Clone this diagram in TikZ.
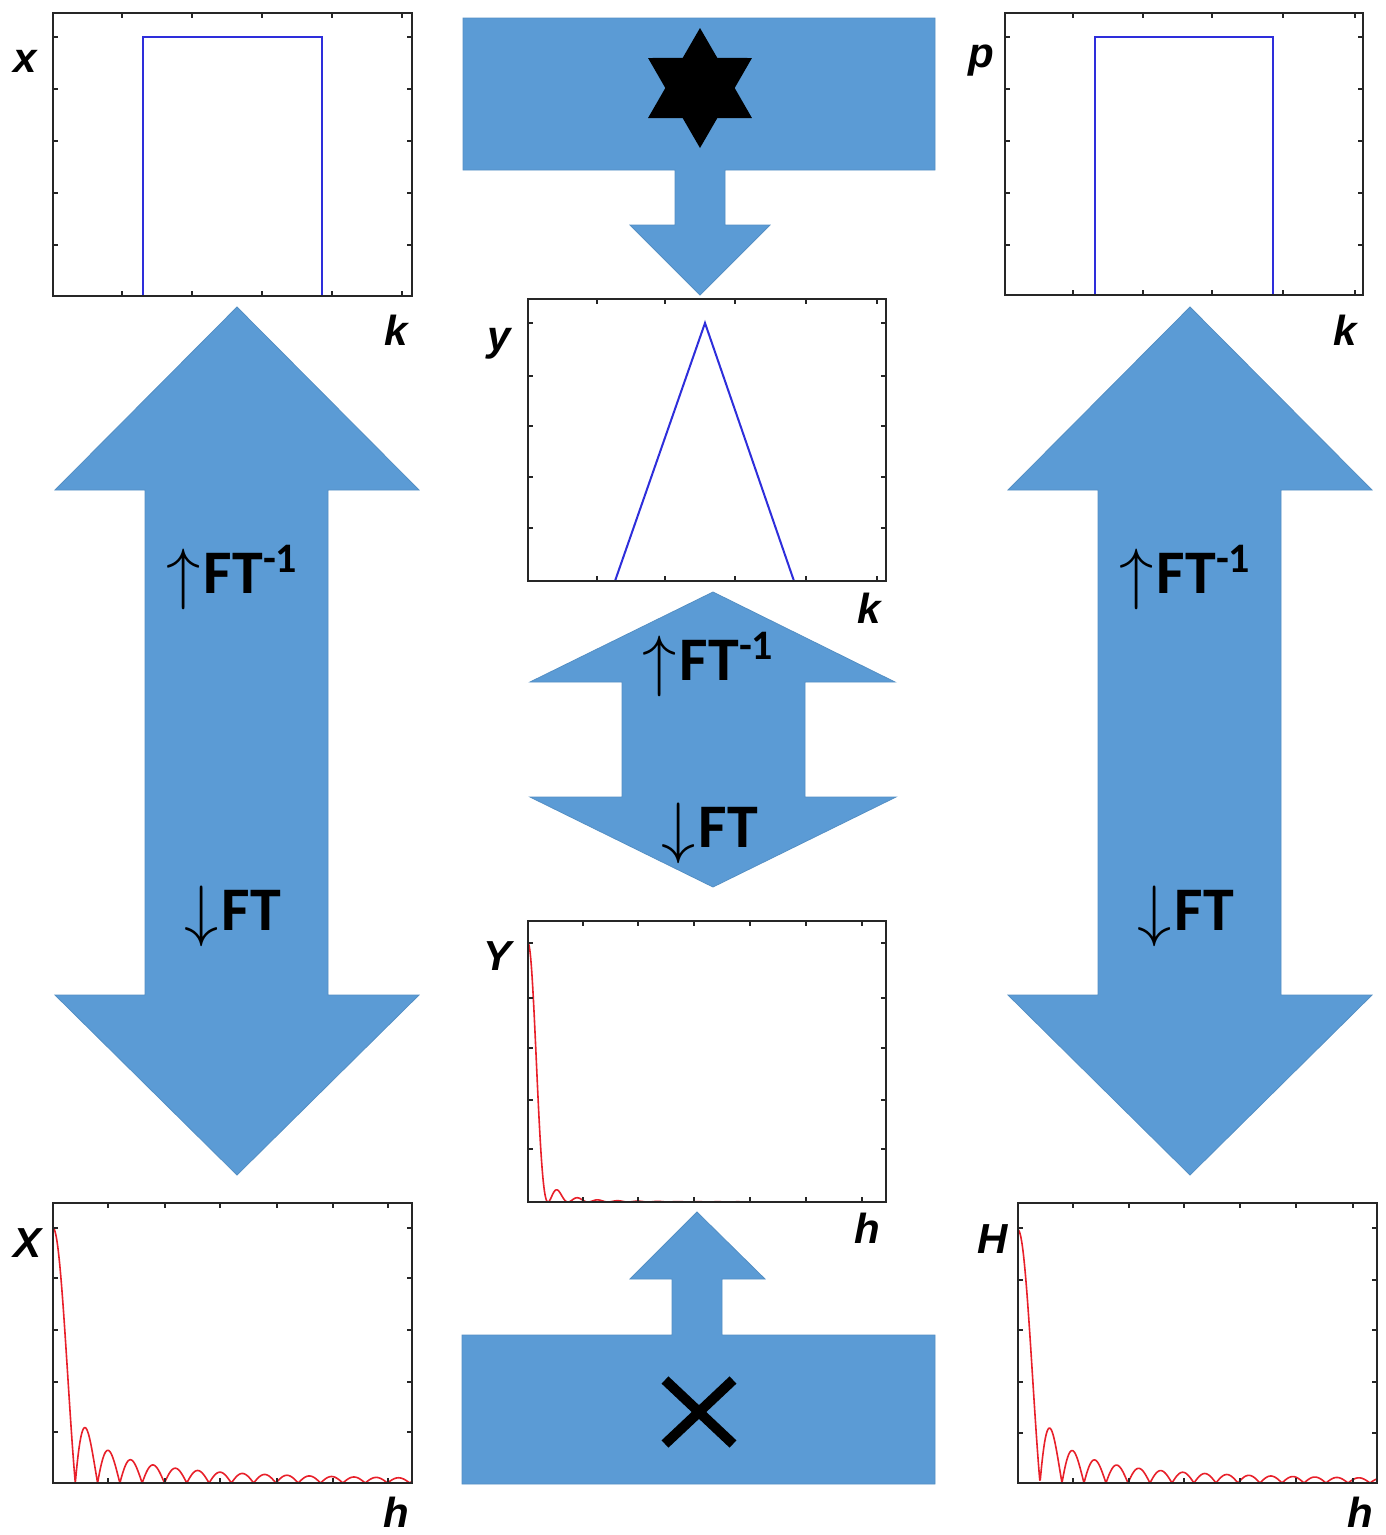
\documentclass[tikz,border=0pt]{standalone}
\usepackage{fontspec}
\usetikzlibrary{shapes.geometric,calc}
\newfontfamily\lblfont{Liberation Sans}
\newfontfamily\ftfont{Carlito}
\definecolor{officeblue}{HTML}{5B9BD5}
\definecolor{plotblue}{HTML}{2E2EDB}
\definecolor{plotred}{HTML}{E8202A}
\newcommand{\ftsup}{\raisebox{21pt}{\fontsize{42}{42}\selectfont -1}}
\newcommand{\ftup}{\raisebox{-3pt}{\scalebox{2.75}{$\uparrow$}}\kern3pt}
\newcommand{\ftdown}{\raisebox{-3pt}{\scalebox{2.75}{$\downarrow$}}\kern3pt}
\newcommand{\plotticks}[6]{%
  \foreach \t in {#5} {\draw[tickmark] (\t,#2) -- ++(0,5); \draw[tickmark] (\t,#4) -- ++(0,-5);}
  \foreach \t in {#6} {\draw[tickmark] (#1,\t) -- ++(5,0); \draw[tickmark] (#3,\t) -- ++(-5,0);}
  \draw[plotframe] (#1,#2) rectangle (#3,#4);}
\tikzset{
  blockarrow/.style={fill=officeblue, draw=officeblue!92!black, line width=0.8pt},
  plotframe/.style={draw=black!85, line width=2pt},
  tickmark/.style={draw=black!85, line width=1.5pt},
  axlabel/.style={font=\lblfont\bfseries\itshape\fontsize{42}{42}\selectfont, anchor=base, inner sep=0pt},
  ftlabel/.style={font=\ftfont\bfseries\fontsize{62}{62}\selectfont, anchor=base west, inner sep=0pt},
  bluecurve/.style={draw=plotblue, line width=2pt},
  redcurve/.style={draw=plotred, line width=1.6pt, line join=round},
}
\begin{document}
\begin{tikzpicture}[x=1pt,y=-1pt]
\useasboundingbox (0,0) rectangle (1385,1535);
\fill[white] (0,0) rectangle (1385,1535);

% ---- big left double arrow
\draw[blockarrow] (237,307) -- (419,490) -- (328,490) -- (328,995) -- (419,995) -- (237,1175)
  -- (55,995) -- (145,995) -- (145,490) -- (55,490) -- cycle;
% ---- big right double arrow
\draw[blockarrow] (1190,307) -- (1372,490) -- (1281,490) -- (1281,995) -- (1372,995) -- (1190,1175)
  -- (1008,995) -- (1098,995) -- (1098,490) -- (1008,490) -- cycle;
% ---- middle double arrow
\draw[blockarrow] (713,592) -- (895,682) -- (805,682) -- (805,797) -- (896,797) -- (713,887)
  -- (530,797) -- (622,797) -- (622,682) -- (530,682) -- cycle;
% ---- star box with down arrow
\draw[blockarrow] (463,18) -- (935,18) -- (935,170) -- (725,170) -- (725,225) -- (770,225) -- (700,295)
  -- (630,225) -- (675,225) -- (675,170) -- (463,170) -- cycle;
\node[star, star points=6, star point ratio=1.73, minimum size=120pt, inner sep=0pt, fill=black] (star) at (700,88) {};
% ---- cross box with up arrow
\draw[blockarrow] (462,1335) -- (672,1335) -- (672,1279) -- (630,1279) -- (697,1212) -- (765,1279)
  -- (722,1279) -- (722,1335) -- (935,1335) -- (935,1484) -- (462,1484) -- cycle;
\coordinate (crossc) at (699,1412);
\draw[line width=10pt] ($(crossc)+(-34,-32)$) -- ($(crossc)+(34,32)$);
\draw[line width=10pt] ($(crossc)+(-34,32)$) -- ($(crossc)+(34,-32)$);

% ---- plot x (top left)
\fill[white] (53,13) rectangle (412,296);
\draw[bluecurve] (143,296) -- (143,37) -- (322,37) -- (322,296);
\plotticks{53}{13}{412}{296}{122,192,262,332,402}{37,89,141,193,245}
% ---- plot p (top right)
\fill[white] (1005,13) rectangle (1363,295);
\draw[bluecurve] (1095,295) -- (1095,37) -- (1273,37) -- (1273,295);
\plotticks{1005}{13}{1363}{295}{1073,1143,1212,1283,1355}{37,89,141,193,245}
% ---- plot y (middle)
\fill[white] (528,299) rectangle (886,581);
\draw[bluecurve] (615,581) -- (705,323) -- (794,581);
\plotticks{528}{299}{886}{581}{597,665,735,806,877}{323,376,426,477,528}
% ---- plot Y (middle lower)
\fill[white] (528,921) rectangle (886,1202);
\draw[redcurve] plot[domain=0.01:17.9, samples=700] ({528+20*\x},{1202-259*(sin(180*\x)/(pi*\x))^2});
\plotticks{528}{921}{886}{1202}{583,638,694,750,806,862}{943,998,1048,1100,1149}
% ---- plot X (bottom left)
\fill[white] (53,1203) rectangle (412,1483);
\draw[redcurve] plot[domain=0.01:16.1, samples=700] ({53+22.3*\x},{1483-255*abs(sin(180*\x)/(pi*\x))});
\plotticks{53}{1203}{412}{1483}{108,165,220,277,333,388}{1228,1278,1330,1382,1432}
% ---- plot H (bottom right)
\fill[white] (1018,1203) rectangle (1377,1483);
\draw[redcurve] plot[domain=0.01:16.3, samples=700] ({1018+22*\x},{1483-253*abs(sin(180*\x)/(pi*\x))});
\plotticks{1018}{1203}{1377}{1483}{1073,1129,1184,1240,1296,1353}{1228,1280,1330,1382,1433}

% ---- axis labels
\node[axlabel] (lx)  at (25,72)    {x};
\node[axlabel] (lk1) at (396,345)  {k};
\node[axlabel] (lp)  at (981,67)   {p};
\node[axlabel] (lk2) at (1345,345) {k};
\node[axlabel] (ly)  at (499,350)  {y};
\node[axlabel] (lk3) at (869,623)  {k};
\node[axlabel] (lY)  at (498,970)  {Y};
\node[axlabel] (lh1) at (867,1243) {h};
\node[axlabel] (lX)  at (28,1257)  {X};
\node[axlabel] (lh2) at (396,1527) {h};
\node[axlabel] (lH)  at (993,1253) {H};
\node[axlabel] (lh3) at (1360,1527){h};

% ---- FT labels
\node[ftlabel] (ftL1) at (166.5,593) {\ftup FT\ftsup};
\node[ftlabel] (ftL2) at (184.5,930) {\ftdown FT};
\node[ftlabel] (ftM1) at (642.5,680) {\ftup FT\ftsup};
\node[ftlabel] (ftM2) at (661.5,847) {\ftdown FT};
\node[ftlabel] (ftR1) at (1119.5,593) {\ftup FT\ftsup};
\node[ftlabel] (ftR2) at (1137.5,930) {\ftdown FT};
\end{tikzpicture}
\end{document}
